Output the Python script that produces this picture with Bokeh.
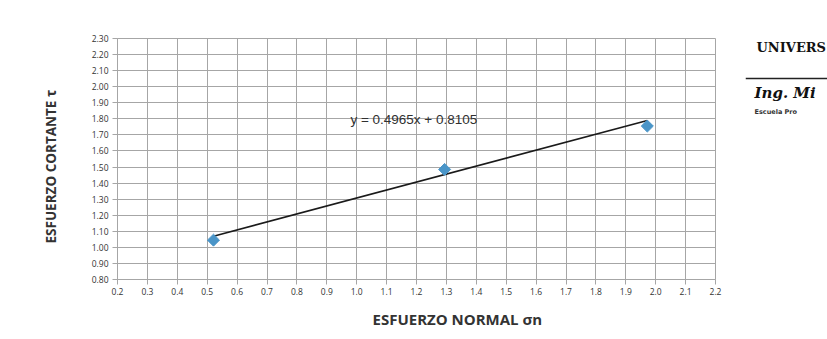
from bokeh.plotting import figure
from bokeh.models import FixedTicker, PrintfTickFormatter, Label, Range1d, Title, Span
from bokeh.layouts import row
from bokeh.embed import file_html
from bokeh.resources import INLINE

# data
esfuerzo_normal = [0.521, 1.294, 1.972]
esfuerzo_cortante = [1.045, 1.485, 1.755]
slope = 0.4965
intercept = 0.8105
equation = "y = 0.4965x + 0.8105"
x_ticks = [0.2, 0.3, 0.4, 0.5, 0.6, 0.7, 0.8, 0.9, 1.0, 1.1, 1.2, 1.3, 1.4, 1.5, 1.6, 1.7, 1.8, 1.9, 2.0, 2.1, 2.2]
y_ticks = [0.80, 0.90, 1.00, 1.10, 1.20, 1.30, 1.40, 1.50, 1.60, 1.70, 1.80, 1.90, 2.00, 2.10, 2.20, 2.30]
x_title = "ESFUERZO NORMAL σn"
y_title = "ESFUERZO CORTANTE τ"
stamp_lines = ["UNIVERS", "Ing. Mi", "Escuela Pro"]

TXT = "#333333"
GRID = "#a6a6a6"

p = figure(width=745, height=339, output_backend="svg", toolbar_location=None,
           x_range=Range1d(0.2, 2.2), y_range=Range1d(0.80, 2.30),
           min_border_left=117, min_border_right=30, min_border_top=38, min_border_bottom=60)
p.background_fill_color = "white"
p.border_fill_color = "white"
p.outline_line_color = GRID

for ax, ticks, fmt in ((p.xaxis[0], x_ticks, "%.1f"), (p.yaxis[0], y_ticks, "%.2f")):
    ax.ticker = FixedTicker(ticks=ticks)
    ax.formatter = PrintfTickFormatter(format=fmt)
    ax.major_label_text_font = "Open Sans"
    ax.major_label_text_font_size = "8.5px"
    ax.major_label_text_color = TXT
    ax.axis_line_color = GRID
    ax.major_tick_line_color = GRID
    ax.major_tick_out = 5
    ax.major_tick_in = 0
    ax.minor_tick_line_color = None
p.xaxis[0].major_label_standoff = 3
p.yaxis[0].major_label_standoff = 4

p.add_layout(Title(text=y_title, align="left", offset=36, standoff=58,
                   text_font="Open Sans", text_font_style="bold", text_font_size="13.5px",
                   text_color=TXT), "left")
p.add_layout(Title(text=x_title, align="left", offset=255, standoff=19,
                   text_font="Open Sans", text_font_style="bold", text_font_size="15px",
                   text_color=TXT), "below")

p.xgrid.grid_line_color = GRID
p.ygrid.grid_line_color = GRID

# trendline from the fitted coefficients over the data span
xs = [min(esfuerzo_normal), max(esfuerzo_normal)]
ys = [slope * v + intercept for v in xs]
p.line(xs, ys, line_color="#1a1a1a", line_width=1.6)

p.scatter(esfuerzo_normal, esfuerzo_cortante, marker="square", angle=0.785398, size=8.5,
          fill_color="#4a95c8", line_color="#4a95c8")

p.add_layout(Label(x=0.979, y=1.796, text=equation, text_font="Liberation Sans",
                   text_font_size="13.5px", text_color="#303030",
                   text_baseline="middle", text_align="left"))

# stamp fragment on the right: a plain panel whose frame is aligned with the
# chart frame (page y 38..279), ranges expressed in page pixels
s = figure(width=82, height=339, output_backend="svg", toolbar_location=None,
           x_range=Range1d(745, 827), y_range=Range1d(279, 38),
           x_axis_location=None, y_axis_location=None, min_border=0)
s.title = None
s.outline_line_color = None
s.xgrid.grid_line_color = None
s.ygrid.grid_line_color = None
s.background_fill_color = "white"
s.border_fill_color = "white"
s.add_layout(Label(x=756, y=47, text=stamp_lines[0], text_font="DejaVu Serif",
                   text_font_style="bold", text_font_size="13px", text_color="#111111",
                   text_baseline="alphabetic"))
s.add_layout(Span(location=78, dimension="width", line_color="#222222", line_width=1.5))
s.add_layout(Label(x=754, y=92, text=stamp_lines[1], text_font="DejaVu Serif",
                   text_font_style="bold italic", text_font_size="15px", text_color="#111111",
                   text_baseline="alphabetic"))
s.add_layout(Label(x=754, y=111, text=stamp_lines[2], text_font="DejaVu Sans",
                   text_font_style="bold", text_font_size="6.5px", text_color="#333333",
                   text_baseline="alphabetic"))

open("out.html", "w").write(file_html(row(p, s), INLINE))
